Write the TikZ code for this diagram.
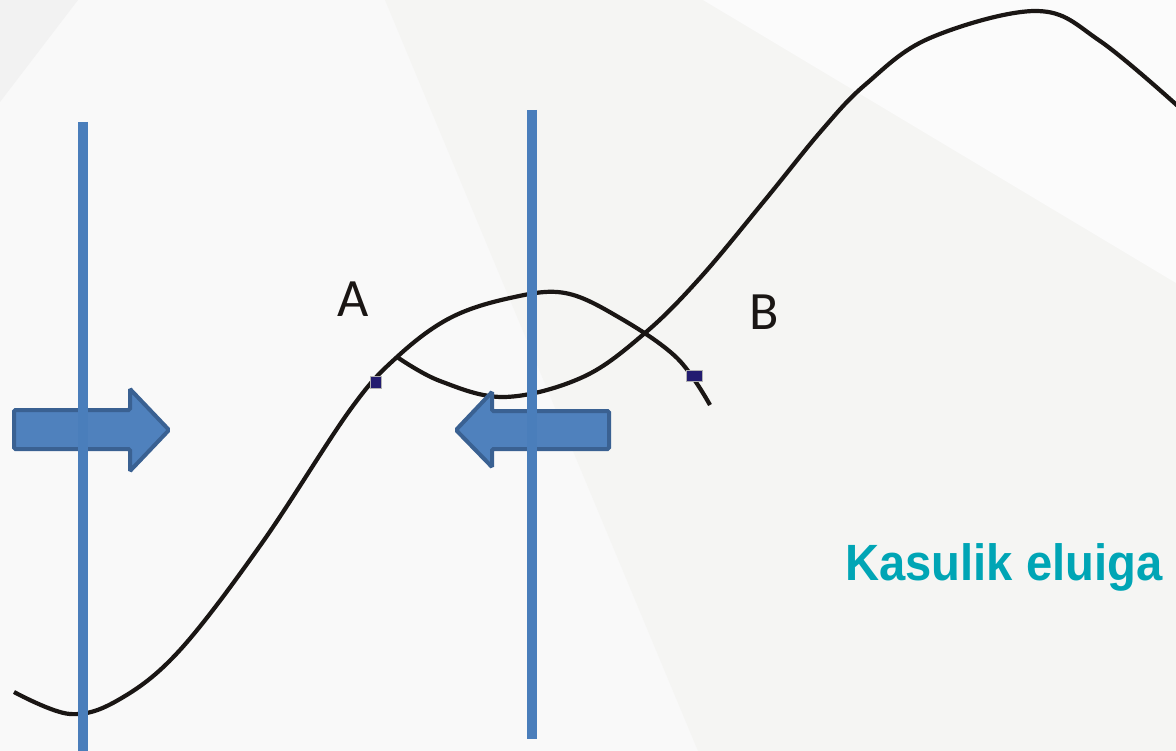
\documentclass[tikz,border=0pt]{standalone}
\usepackage{fontspec}
\setmainfont{Carlito}
\newfontfamily\headfont{Liberation Sans}
\usetikzlibrary{positioning}
\definecolor{paper}{HTML}{F9F9F9}
\definecolor{shadeL}{HTML}{F2F2F2}
\definecolor{shadeR}{HTML}{F5F5F3}
\definecolor{shadeT}{HTML}{FBFBFB}
\definecolor{barblue}{HTML}{4A7EBB}
\definecolor{arrowfill}{HTML}{4F81BD}
\definecolor{arrowedge}{HTML}{3A6192}
\definecolor{ink}{HTML}{1A1614}
\definecolor{markfill}{HTML}{231C70}
\definecolor{lifeteal}{HTML}{00A5B5}
\tikzset{curve/.style={draw=ink,line width=4.2pt,smooth,tension=0.6},
  bar/.style={draw=barblue,line width=10.5pt},
  pusharrow/.style={fill=arrowfill,draw=arrowedge,line width=4pt,rounded corners=1.5pt},
  marker/.style={fill=markfill,draw=gray!60,line width=1pt,inner sep=0pt},
  letter/.style={anchor=base west,inner sep=0pt,text=ink,font=\fontsize{54}{60}\selectfont}}

\begin{document}
\begin{tikzpicture}[x=1pt,y=-1pt]
    \useasboundingbox (0,0) rectangle (1176,751);
    \clip (0,0) rectangle (1176,751);
    % background panes
    \fill[paper] (0,0) rectangle (1176,751);
    \fill[shadeL] (0,0) -- (78,0) -- (0,102) -- cycle;
    \fill[shadeR] (385,0) -- (1176,0) -- (1176,751) -- (698,751) -- cycle;
    \fill[shadeT] (703,0) -- (1176,0) -- (1176,283) -- cycle;
    % curves
    \draw[curve] plot coordinates {(14,692) (70,714) (120,699) (180,650) (262,543) (350,410) (397,357) (450,318) (510,298) (565,293) (620,318) (677,358) (710,405)};
    \draw[curve] plot coordinates {(397,357) (440,381) (505,397) (583,377) (645,333) (700,278) (765,200) (822,130) (866,84) (930,38) (1037,11) (1100,41) (1180,108)};
    % arrows
    \draw[pusharrow] (14,410) -- (130,410) -- (130,389) -- (169,430) -- (130,471) -- (130,449) -- (14,449) -- cycle;
    \draw[pusharrow] (609,411) -- (492,411) -- (492,392) -- (456,430) -- (492,467) -- (492,449) -- (609,449) -- cycle;
    % bars
    \draw[bar] (83,122) -- (83,751);
    \draw[bar] (532,110) -- (532,739);
    % markers and labels
    \node[marker,minimum width=11pt,minimum height=12pt] (markA) at (375.5,383) {};
    \node[marker,minimum width=16pt,minimum height=11pt] (markB) at (694,376.5) {};
    \node[letter] (labA) at (337,317) {A};
    \node[letter] (labB) at (749,330) {B};
    \node[anchor=base west,inner sep=0pt,text=lifeteal,font=\headfont\bfseries\fontsize{51}{60}\selectfont] (life) at (845,580) {\scalebox{0.925}[1]{Kasulik eluiga}};
\end{tikzpicture}
\end{document}
